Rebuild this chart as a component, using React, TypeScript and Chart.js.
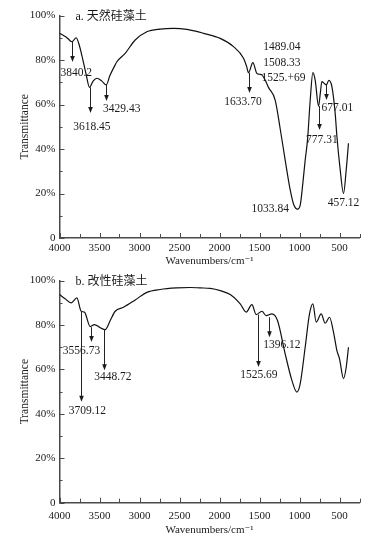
import React, { useEffect, useRef } from 'react';
import { Chart, registerables } from 'chart.js';

Chart.register(...registerables);

// ---- Data ----
const wavenumbersA = [4000, 3950, 3900, 3845, 3791, 3760, 3720, 3670, 3625, 3580, 3532, 3470, 3416, 3370, 3304, 3283, 3179, 3054, 2908, 2741, 2575, 2407, 2300, 2200, 1991, 1825, 1700, 1660, 1637, 1583, 1533, 1500, 1470, 1430, 1388, 1304, 1241, 1179, 1116, 1075, 1025, 991, 960, 929, 900, 866, 833, 804, 762, 740, 720, 691, 666, 633, 595, 554, 532, 491, 450, 416, 388];
const transmittanceA = [92, 91, 89.8, 88.2, 90, 87.5, 82, 74, 67.7, 70.5, 71.8, 70.5, 68.8, 73, 77.8, 79.2, 83, 89, 92.7, 93.9, 94.2, 93.8, 93, 92, 89.7, 86, 80.8, 77, 74.3, 78.8, 74, 73.6, 73.3, 71, 67.7, 62, 49, 35, 21.6, 15.3, 13, 14.8, 24, 35, 44, 62, 74.3, 71, 59.3, 65, 70.3, 69.5, 68.8, 70.8, 68, 56, 45.5, 30.6, 20, 30.6, 42.6];

const wavenumbersB = [4000, 3929, 3854, 3783, 3729, 3688, 3616, 3563, 3491, 3429, 3366, 3304, 3200, 3054, 2908, 2741, 2533, 2366, 2241, 2116, 1990, 1866, 1741, 1666, 1595, 1541, 1470, 1416, 1345, 1275, 1179, 1095, 1033, 991, 929, 875, 833, 791, 729, 679, 625, 575, 533, 500, 450, 416, 388];
const transmittanceB = [93.7, 91.8, 90, 92.2, 86.2, 85.8, 79.3, 80.2, 78.8, 77.9, 82, 86.2, 88, 91.3, 94.7, 96, 96.7, 96.9, 96.7, 96.5, 95.5, 93.7, 89.5, 85.8, 89.2, 84.7, 86.2, 84.2, 85, 82, 67, 55.1, 49.8, 53.6, 70, 85, 89.5, 81.3, 85, 80.8, 83.5, 76.8, 68.6, 64.8, 55.9, 61, 70];

const xTickValues = [4000, 3750, 3500, 3250, 3000, 2750, 2500, 2250, 2000, 1750, 1500, 1250, 1000, 750, 500, 250];
const yTickValues = [0, 10, 20, 30, 40, 50, 60, 70, 80, 90, 100];

const panelTitleA = 'a. 天然硅藻土';
const panelTitleB = 'b. 改性硅藻土';
const xTitle = 'Wavenumbers/cm⁻¹';
const yTitle = 'Transmittance';

type Ann = { wn?: number; top?: number; bottom?: number; text: string; lwn: number; ly: number };

// peak annotations: arrow at wavenumber wn from transmittance top to bottom, label at (lwn, ly)
const annotationsA: Ann[] = [
  { wn: 3841, top: 88.1, bottom: 79.1, text: '3840.2', lwn: 3791, ly: 74.3 },
  { wn: 3625, top: 67.7, bottom: 56.2, text: '3618.45', lwn: 3595, ly: 50 },
  { wn: 3416, top: 68.8, bottom: 61.6, text: '3429.43', lwn: 3222, ly: 57.8 },
  { wn: 1637, top: 74.3, bottom: 65.2, text: '1633.70', lwn: 1707, ly: 61.1 },
  { text: '1489.04', lwn: 1220, ly: 85.7 },
  { text: '1508.33', lwn: 1220, ly: 78.8 },
  { text: '1525.+69', lwn: 1200, ly: 72 },
  { wn: 762, top: 59.3, bottom: 48.5, text: '777.31', lwn: 720, ly: 44 },
  { wn: 666, top: 68.8, bottom: 62, text: '677.01', lwn: 526, ly: 58.3 },
  { text: '1033.84', lwn: 1366, ly: 12.9 },
  { text: '457.12', lwn: 450, ly: 15.9 },
];

const annotationsB: Ann[] = [
  { wn: 3729, top: 86.2, bottom: 45.4, text: '3709.12', lwn: 3651, ly: 41.2 },
  { wn: 3604, top: 79.0, bottom: 72.3, text: '3556.73', lwn: 3725, ly: 68.3 },
  { wn: 3438, top: 78.0, bottom: 59.6, text: '3448.72', lwn: 3333, ly: 56.6 },
  { wn: 1520, top: 84.7, bottom: 61.1, text: '1525.69', lwn: 1508, ly: 57.3 },
  { wn: 1379, top: 83.5, bottom: 74.5, text: '1396.12', lwn: 1220, ly: 70.8 },
];

const SERIF = '"Liberation Serif", "DejaVu Serif", serif';
const CJK = '"Liberation Serif", "Noto Sans CJK SC", serif';
const AXIS_COLOR = '#4a4a4a';
const TEXT_COLOR = '#1a1a1a';

function makeDecor(title: string, anns: Ann[]) {
  return {
    id: 'ftirDecor',
    afterDraw(chart: any) {
      const { ctx, chartArea } = chart;
      const x = chart.scales.x;
      const y = chart.scales.y;
      ctx.save();
      // inward tick marks
      ctx.strokeStyle = AXIS_COLOR;
      ctx.lineWidth = 1;
      for (const v of xTickValues) {
        const px = Math.round(x.getPixelForValue(v)) + 0.5;
        const len = v % 500 === 0 ? 5 : 4;
        ctx.beginPath();
        ctx.moveTo(px, chartArea.bottom);
        ctx.lineTo(px, chartArea.bottom - len);
        ctx.stroke();
      }
      for (const v of yTickValues) {
        const py = Math.round(y.getPixelForValue(v)) + 0.5;
        const len = v % 20 === 0 ? 5 : 3;
        ctx.beginPath();
        ctx.moveTo(chartArea.left, py);
        ctx.lineTo(chartArea.left + len, py);
        ctx.stroke();
      }
      // arrows and labels
      ctx.fillStyle = TEXT_COLOR;
      ctx.strokeStyle = '#222';
      for (const a of anns) {
        if (a.wn !== undefined && a.top !== undefined && a.bottom !== undefined) {
          const px = Math.round(x.getPixelForValue(a.wn)) + 0.5;
          const py1 = y.getPixelForValue(a.top);
          const py2 = y.getPixelForValue(a.bottom);
          ctx.lineWidth = 1;
          ctx.beginPath();
          ctx.moveTo(px, py1);
          ctx.lineTo(px, py2 - 4);
          ctx.stroke();
          ctx.beginPath();
          ctx.moveTo(px - 2.3, py2 - 6);
          ctx.lineTo(px + 2.3, py2 - 6);
          ctx.lineTo(px, py2);
          ctx.closePath();
          ctx.fill();
        }
        ctx.font = `11.5px ${SERIF}`;
        ctx.textAlign = 'center';
        ctx.textBaseline = 'middle';
        ctx.fillText(a.text, x.getPixelForValue(a.lwn), y.getPixelForValue(a.ly));
      }
      // panel title
      ctx.font = `12px ${CJK}`;
      ctx.textAlign = 'left';
      ctx.textBaseline = 'middle';
      ctx.fillText(title, chartArea.left + 16, chartArea.top + 1);
      ctx.restore();
    },
  };
}

type PanelProps = {
  wn: number[];
  tr: number[];
  anns: Ann[];
  title: string;
  height: number;
  padTop: number;
  xHeight: number;
  tickPad: number;
  titlePadBottom: number;
};

function Panel({ wn, tr, anns, title, height, padTop, xHeight, tickPad, titlePadBottom }: PanelProps) {
  const ref = useRef<HTMLCanvasElement>(null);
  useEffect(() => {
    const chart = new Chart(ref.current as HTMLCanvasElement, {
      type: 'line',
      data: {
        datasets: [
          {
            data: wn.map((v, i) => ({ x: v, y: tr[i] })),
            borderColor: '#111',
            borderWidth: 1.2,
            pointRadius: 0,
            cubicInterpolationMode: 'monotone',
            fill: false,
          } as any,
        ],
      },
      options: {
        animation: false,
        responsive: false,
        events: [],
        layout: { padding: { left: 14, right: 32.5, top: padTop, bottom: 0 } },
        plugins: { legend: { display: false }, tooltip: { enabled: false } },
        scales: {
          x: {
            type: 'linear',
            reverse: true,
            min: 250,
            max: 4000,
            afterBuildTicks: (s: any) => {
              s.ticks = xTickValues.map((v) => ({ value: v }));
            },
            afterFit: (s: any) => {
              s.height = xHeight;
            },
            grid: { display: false, drawTicks: false },
            border: { display: true, color: AXIS_COLOR, width: 1.5 },
            ticks: {
              autoSkip: false,
              maxRotation: 0,
              padding: tickPad,
              color: TEXT_COLOR,
              font: { family: SERIF, size: 11 },
              callback: (v: any) => (Number(v) % 500 === 0 ? String(v) : ''),
            },
            title: {
              display: true,
              text: xTitle,
              color: TEXT_COLOR,
              font: { family: SERIF, size: 11 },
              padding: { top: 0, bottom: titlePadBottom },
            },
          },
          y: {
            type: 'linear',
            min: 0,
            max: 100,
            afterBuildTicks: (s: any) => {
              s.ticks = yTickValues.map((v) => ({ value: v }));
            },
            afterFit: (s: any) => {
              s.width = 45.5;
            },
            grid: { display: false, drawTicks: false },
            border: { display: true, color: AXIS_COLOR, width: 1.5 },
            ticks: {
              autoSkip: false,
              padding: 4,
              color: TEXT_COLOR,
              font: { family: SERIF, size: 11 },
              callback: (v: any) => {
                const n = Number(v);
                if (n % 20 !== 0) return '';
                return n === 0 ? '0' : `${n}%`;
              },
            },
            title: {
              display: true,
              text: yTitle,
              color: TEXT_COLOR,
              font: { family: SERIF, size: 11.5 },
              padding: { top: 4.4, bottom: 0 },
            },
          },
        },
      },
      plugins: [makeDecor(title, anns)],
    } as any);
    return () => chart.destroy();
  }, []);
  return <canvas ref={ref} width={392} height={height} style={{ display: 'block', width: 392, height }} />;
}

export default function App() {
  return (
    <div style={{ position: 'absolute', left: 0, top: 0, width: 392, height: 541, background: '#fff' }}>
      <Panel wn={wavenumbersA} tr={transmittanceA} anns={annotationsA} title={panelTitleA} height={270} padTop={15.5} xHeight={32} tickPad={3.5} titlePadBottom={2.4} />
      <Panel wn={wavenumbersB} tr={transmittanceB} anns={annotationsB} title={panelTitleB} height={271} padTop={10} xHeight={38.3} tickPad={6.5} titlePadBottom={4.4} />
    </div>
  );
}
